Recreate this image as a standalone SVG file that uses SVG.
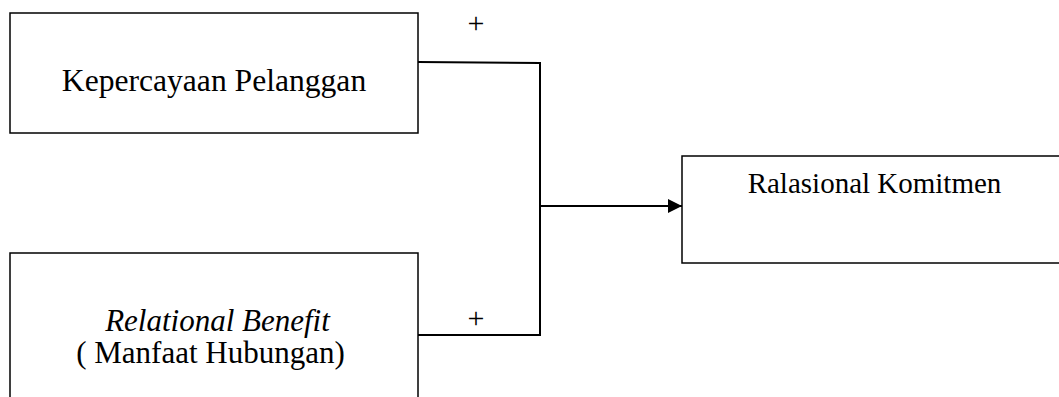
<svg xmlns="http://www.w3.org/2000/svg" width="1059" height="397" viewBox="0 0 1059 397">
<style>
.box{fill:#fff;stroke:#000;stroke-width:1.5}
.t{font-family:"Liberation Serif","Times New Roman",serif;font-size:31px;fill:#000;text-anchor:middle}
.plus{font-family:"Liberation Serif","Times New Roman",serif;font-size:30px;fill:#000;text-anchor:middle}
.c{fill:none;stroke:#000;stroke-width:2}
</style>
<defs>
<marker id="arr" markerWidth="14" markerHeight="14" refX="14" refY="7" orient="auto" markerUnits="userSpaceOnUse">
<path d="M0,0 L14,7 L0,14 Z" fill="#000"/>
</marker>
</defs>
<rect width="1059" height="397" fill="#fff"/>
<g id="node-kepercayaan">
<rect class="box" x="10" y="13" width="408" height="120"/>
<text class="t" x="214" y="91" style="font-size:31.6px">Kepercayaan Pelanggan</text>
</g>
<g id="node-relational">
<rect class="box" x="10" y="253" width="408" height="160"/>
<text class="t" x="217.5" y="331" font-style="italic">Relational Benefit</text>
<text class="t" x="210.5" y="363">( Manfaat Hubungan)</text>
</g>
<g id="node-komitmen">
<rect class="box" x="682" y="156" width="400" height="107"/>
<text class="t" x="874.5" y="193" style="font-size:29px">Ralasional Komitmen</text>
</g>
<g id="connectors">
<polyline class="c" points="418,62 540,63 540,335 418,335"/>
<line class="c" x1="540" y1="206" x2="682" y2="206" marker-end="url(#arr)"/>
<text class="plus" x="476" y="33">+</text>
<text class="plus" x="476" y="328">+</text>
</g>
</svg>
